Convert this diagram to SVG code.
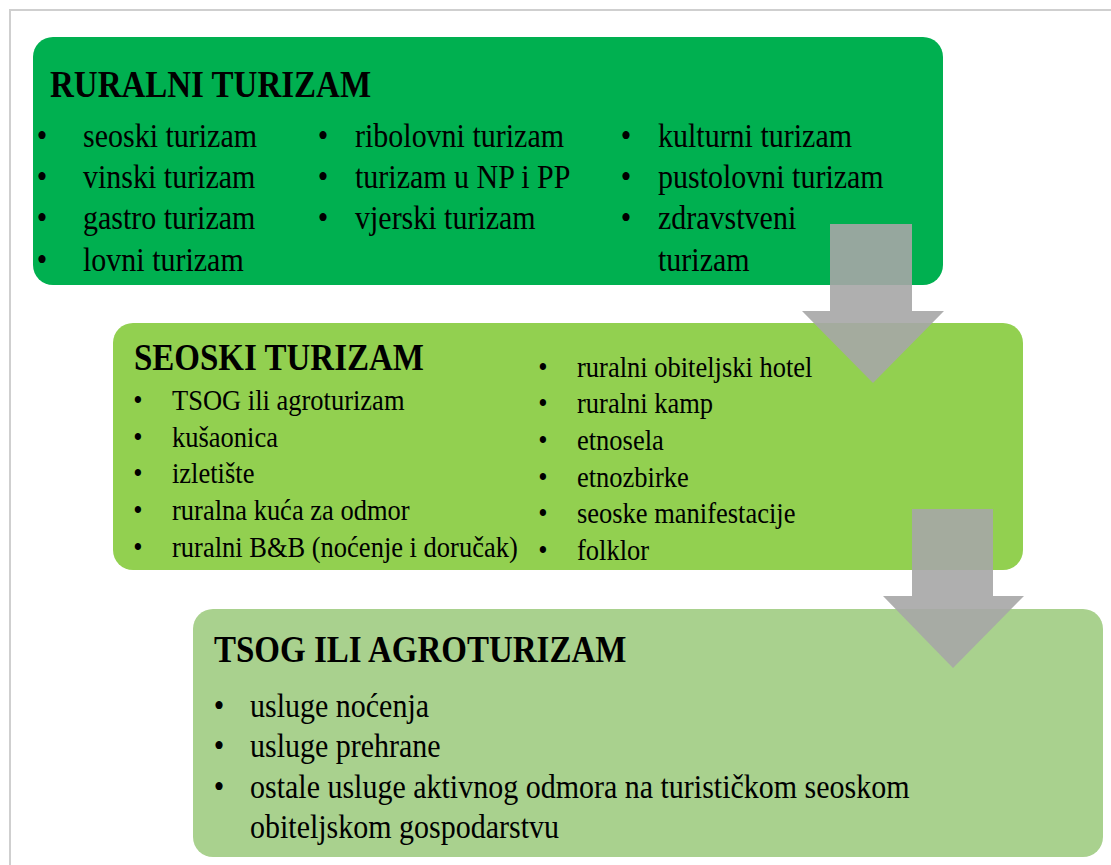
<svg xmlns="http://www.w3.org/2000/svg" width="1111" height="865" viewBox="0 0 1111 865">
<style>
.t{font-family:"Liberation Serif","Times New Roman",serif;fill:#000}
.h{font-weight:bold;font-size:33px}
.b1{font-size:30px}
.b2{font-size:26.5px}
.b3{font-size:30px}
.bu{text-anchor:middle}
.arr{fill:#A6A6A6;fill-opacity:0.9}
</style>
<rect x="0" y="0" width="1111" height="865" fill="#fff"/>
<path d="M10 865 V10 H1111" fill="none" stroke="#CFCFCF" stroke-width="2"/>
<g id="ruralni">
<rect x="33" y="37" width="910" height="248" rx="20" fill="#00B050"/>
<text class="t h" transform="translate(50,97) scale(1,1.15)">RURALNI TURIZAM</text>
<g class="t b1">
<text class="bu" transform="translate(42,147) scale(1,1.15)">•</text>
<text transform="translate(83,147) scale(1,1.15)">seoski turizam</text>
<text class="bu" transform="translate(42,188) scale(1,1.15)">•</text>
<text transform="translate(83,188) scale(1,1.15)">vinski turizam</text>
<text class="bu" transform="translate(42,229) scale(1,1.15)">•</text>
<text transform="translate(83,229) scale(1,1.15)">gastro turizam</text>
<text class="bu" transform="translate(42,271) scale(1,1.15)">•</text>
<text transform="translate(83,271) scale(1,1.15)">lovni turizam</text>
<text class="bu" transform="translate(323,147) scale(1,1.15)">•</text>
<text transform="translate(355,147) scale(1,1.15)">ribolovni turizam</text>
<text class="bu" transform="translate(323,188) scale(1,1.15)">•</text>
<text transform="translate(355,188) scale(1,1.15)">turizam u NP i PP</text>
<text class="bu" transform="translate(323,229) scale(1,1.15)">•</text>
<text transform="translate(355,229) scale(1,1.15)">vjerski turizam</text>
<text class="bu" transform="translate(626,147) scale(1,1.15)">•</text>
<text transform="translate(658,147) scale(1,1.15)">kulturni turizam</text>
<text class="bu" transform="translate(626,188) scale(1,1.15)">•</text>
<text transform="translate(658,188) scale(1,1.15)">pustolovni turizam</text>
<text class="bu" transform="translate(626,229) scale(1,1.15)">•</text>
<text transform="translate(658,229) scale(1,1.15)">zdravstveni</text>
<text transform="translate(658,271) scale(1,1.15)">turizam</text>
</g>
</g>
<g id="seoski">
<rect x="113" y="323" width="910" height="247" rx="20" fill="#92D050"/>
<text class="t h" transform="translate(134,370) scale(1,1.15)">SEOSKI TURIZAM</text>
<g class="t b2">
<text class="bu" transform="translate(138,410) scale(1,1.15)">•</text>
<text transform="translate(172,410) scale(1,1.15)">TSOG ili agroturizam</text>
<text class="bu" transform="translate(138,447) scale(1,1.15)">•</text>
<text transform="translate(172,447) scale(1,1.15)">kušaonica</text>
<text class="bu" transform="translate(138,483) scale(1,1.15)">•</text>
<text transform="translate(172,483) scale(1,1.15)">izletište</text>
<text class="bu" transform="translate(138,520) scale(1,1.15)">•</text>
<text transform="translate(172,520) scale(1,1.15)">ruralna kuća za odmor</text>
<text class="bu" transform="translate(138,557) scale(1,1.15)">•</text>
<text transform="translate(172,557) scale(1,1.15)">ruralni B&amp;B (noćenje i doručak)</text>
<text class="bu" transform="translate(543,377) scale(1,1.15)">•</text>
<text transform="translate(577,377) scale(1,1.15)">ruralni obiteljski hotel</text>
<text class="bu" transform="translate(543,413) scale(1,1.15)">•</text>
<text transform="translate(577,413) scale(1,1.15)">ruralni kamp</text>
<text class="bu" transform="translate(543,450) scale(1,1.15)">•</text>
<text transform="translate(577,450) scale(1,1.15)">etnosela</text>
<text class="bu" transform="translate(543,487) scale(1,1.15)">•</text>
<text transform="translate(577,487) scale(1,1.15)">etnozbirke</text>
<text class="bu" transform="translate(543,523) scale(1,1.15)">•</text>
<text transform="translate(577,523) scale(1,1.15)">seoske manifestacije</text>
<text class="bu" transform="translate(543,560) scale(1,1.15)">•</text>
<text transform="translate(577,560) scale(1,1.15)">folklor</text>
</g>
</g>
<g id="connectors">
<polygon id="arrow1" class="arr" points="830,224 912,224 912,311 944,311 873,383 802,311 830,311"/>
</g>
<g id="tsog">
<rect x="193" y="609" width="910" height="248" rx="20" fill="#A9D18E"/>
<text class="t h" transform="translate(214,662) scale(1,1.15)">TSOG ILI AGROTURIZAM</text>
<g class="t b3">
<text class="bu" transform="translate(219,717) scale(1,1.15)">•</text>
<text transform="translate(250,717) scale(1,1.15)">usluge noćenja</text>
<text class="bu" transform="translate(219,757) scale(1,1.15)">•</text>
<text transform="translate(250,757) scale(1,1.15)">usluge prehrane</text>
<text class="bu" transform="translate(219,798) scale(1,1.15)">•</text>
<text transform="translate(250,798) scale(1,1.15)">ostale usluge aktivnog odmora na turističkom seoskom</text>
<text transform="translate(250,838) scale(1,1.15)">obiteljskom gospodarstvu</text>
</g>
</g>
<g id="connectors2">
<polygon id="arrow2" class="arr" points="912,509 993,509 993,596 1024,596 953,668 883,596 912,596"/>
</g>
</svg>
